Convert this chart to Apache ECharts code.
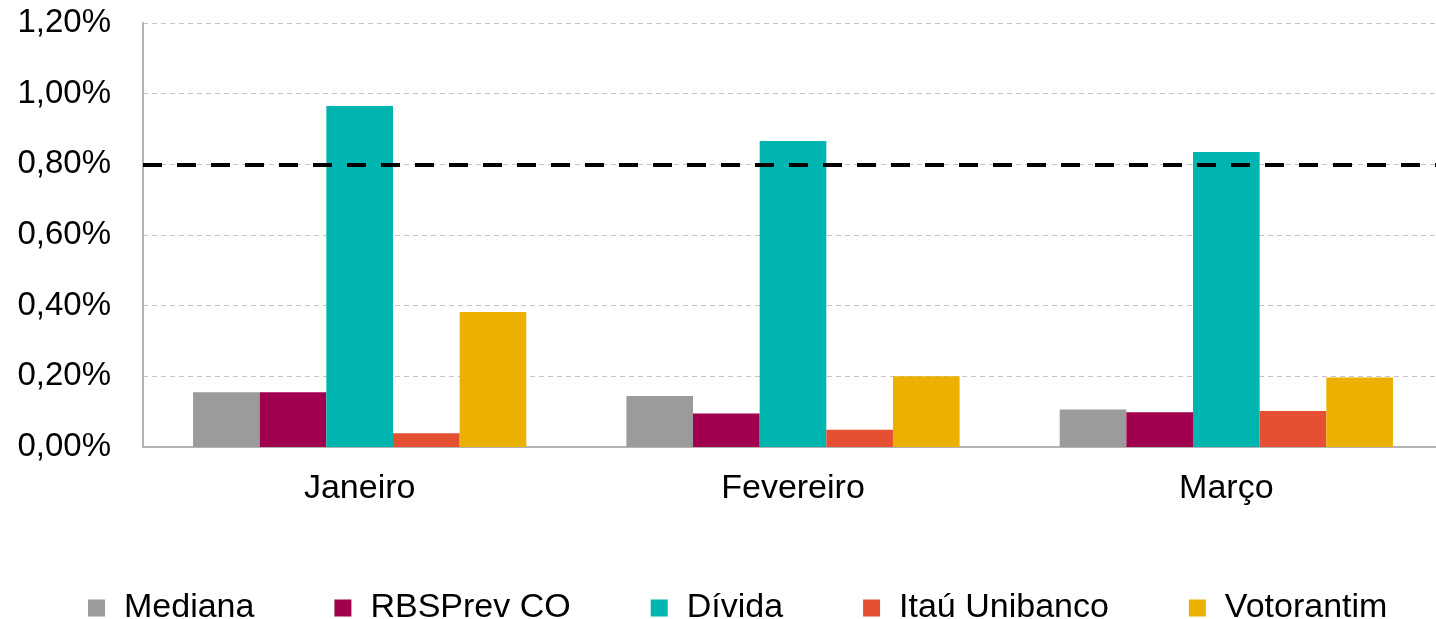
<!DOCTYPE html>
<html>
<head>
<meta charset="utf-8">
<script src="https://cdn.jsdelivr.net/npm/echarts@6/dist/echarts.min.js"></script>
<style>
html,body{margin:0;padding:0;background:#fff;}
#chart{width:1436px;height:619px;}
</style>
</head>
<body>
<div id="chart"></div>
<script>
const categories = ['Janeiro', 'Fevereiro', 'Março'];
const seriesNames = ['Mediana', 'RBSPrev CO', 'Dívida', 'Itaú Unibanco', 'Votorantim'];
const mediana = [0.155, 0.144, 0.106];
const rbsprev = [0.155, 0.095, 0.098];
const divida = [0.965, 0.866, 0.835];
const itau = [0.039, 0.049, 0.102];
const votorantim = [0.382, 0.200, 0.197];
const referenceLine = 0.804;
const colors = ['#9B9B9B', '#A0004E', '#00B5AF', '#E55033', '#EBB000'];

const values = [mediana, rbsprev, divida, itau, votorantim];
const fontFamily = '"Liberation Sans", Arial, sans-serif';

const chart = echarts.init(document.getElementById('chart'));
const series = seriesNames.map((name, i) => {
  const s = {
    name: name,
    type: 'bar',
    data: values[i],
    barGap: '0%',
    barCategoryGap: '23.1%',
    itemStyle: { color: colors[i] },
    emphasis: { disabled: true },
    animation: false
  };
  if (i === 0) {
    s.markLine = {
      silent: true,
      symbol: ['none', 'none'],
      label: { show: false },
      lineStyle: { color: '#000', width: 4, type: [19, 15] },
      data: [{ yAxis: referenceLine }],
      animation: false,
      z: 10
    };
  }
  return s;
});

chart.setOption({
  animation: false,
  color: colors,
  grid: { left: 143, top: 23, width: 1300, height: 424, outerBoundsMode: 'none' },
  legend: {
    data: seriesNames,
    left: 83,
    top: 586,
    icon: 'rect',
    itemWidth: 17,
    itemHeight: 17,
    itemGap: 80,
    textStyle: { fontSize: 34, color: '#000', fontFamily: fontFamily, padding: [0, 0, 0, 14] }
  },
  xAxis: {
    type: 'category',
    data: categories,
    axisLine: { lineStyle: { color: '#B3B3B3', width: 2 } },
    axisTick: { show: false },
    axisLabel: { fontSize: 34, color: '#000', fontFamily: fontFamily, margin: 25 },
    splitLine: { show: false }
  },
  yAxis: {
    type: 'value',
    min: 0,
    max: 1.2,
    interval: 0.2,
    axisLine: { show: true, lineStyle: { color: '#B3B3B3', width: 2 } },
    axisTick: { show: false },
    axisLabel: {
      fontSize: 33,
      color: '#000',
      fontFamily: fontFamily,
      margin: 32,
      formatter: v => v.toFixed(2).replace('.', ',') + '%'
    },
    splitLine: { show: true, lineStyle: { color: '#C4C4C4', width: 1, type: [5, 4] } }
  },
  series: series
});
</script>
</body>
</html>
